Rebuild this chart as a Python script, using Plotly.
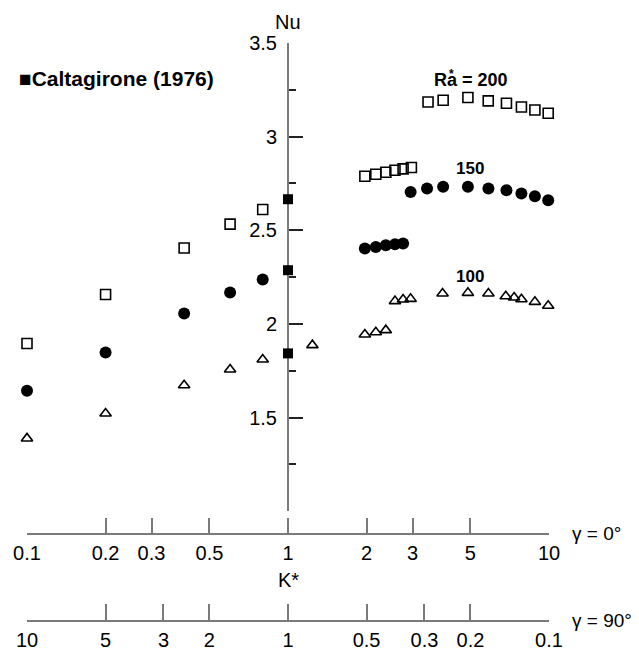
import plotly.graph_objects as go

# ---- data ----
K_200 = [0.1, 0.2, 0.4, 0.6, 0.8, 1.97, 2.17, 2.37, 2.57, 2.76, 2.97,
         3.44, 3.93, 4.89, 5.85, 6.87, 7.84, 8.83, 9.93]
Nu_200 = [1.896, 2.157, 2.406, 2.533, 2.611, 2.789, 2.799, 2.810, 2.821, 2.828, 2.835,
          3.185, 3.194, 3.209, 3.191, 3.178, 3.158, 3.142, 3.125]

K_150 = [0.1, 0.2, 0.4, 0.6, 0.8, 1.97, 2.17, 2.37, 2.57, 2.76,
         2.95, 3.41, 3.93, 4.89, 5.86, 6.87, 7.84, 8.83, 9.93]
Nu_150 = [1.643, 1.848, 2.056, 2.168, 2.237, 2.403, 2.411, 2.420, 2.426, 2.430,
          2.705, 2.723, 2.732, 2.732, 2.723, 2.714, 2.696, 2.682, 2.661]

K_100 = [0.1, 0.2, 0.4, 0.6, 0.8, 1.24, 1.97, 2.17, 2.37, 2.57, 2.76, 2.95,
         3.91, 4.89, 5.86, 6.83, 7.35, 7.84, 8.83, 9.93]
Nu_100 = [1.389, 1.522, 1.673, 1.757, 1.810, 1.887, 1.944, 1.956, 1.967, 2.122, 2.131, 2.134,
          2.163, 2.166, 2.163, 2.148, 2.141, 2.132, 2.118, 2.097]

K_calt = [1, 1, 1]
Nu_calt = [1.843, 2.287, 2.666]

K_ticks_0 = [0.1, 0.2, 0.3, 0.5, 1, 2, 3, 5, 10]
K_ticks_90 = [10, 5, 3, 2, 1, 0.5, 0.3, 0.2, 0.1]
Nu_ticks = [1.5, 2, 2.5, 3, 3.5]

FONT = "Liberation Sans, Arial, sans-serif"
AX = "#7a7a7a"

fig = go.Figure()
fig.add_trace(go.Scatter(x=K_200, y=Nu_200, mode="markers", name="Ra*=200",
                         marker=dict(symbol="square-open", size=10, color="black",
                                     line=dict(width=1.6, color="black")),
                         cliponaxis=False))
fig.add_trace(go.Scatter(x=K_150, y=Nu_150, mode="markers", name="Ra*=150",
                         marker=dict(symbol="circle", size=12, color="black"),
                         cliponaxis=False))
fig.add_trace(go.Scatter(x=K_100, y=Nu_100, mode="markers", name="Ra*=100",
                         marker=dict(symbol="triangle-up-open", size=10, color="black",
                                     line=dict(width=1.6, color="black")),
                         cliponaxis=False))
fig.add_trace(go.Scatter(x=K_calt, y=Nu_calt, mode="markers", name="Caltagirone (1976)",
                         marker=dict(symbol="square", size=10, color="black"),
                         cliponaxis=False))
# second (reversed) K* scale for gamma = 90 deg
fig.add_trace(go.Scatter(x=K_ticks_90, y=[None] * len(K_ticks_90), xaxis="x2",
                         mode="markers", showlegend=False, hoverinfo="skip"))

# page body has an 8px default margin -> figure is 8px smaller, margins shifted
fig.update_layout(
    width=631, height=643,
    margin=dict(l=18.7, r=89.7, t=34.7, b=30.3, autoexpand=False),
    paper_bgcolor="white", plot_bgcolor="white",
    showlegend=False,
    font=dict(family=FONT, size=20, color="black"),
    xaxis=dict(type="log", range=[-1, 1], anchor="free", position=0.15,
               tickvals=K_ticks_0, ticktext=[str(v) for v in K_ticks_0],
               ticks="inside", ticklen=16, tickwidth=1.5, tickcolor=AX,
               showline=True, linecolor=AX, linewidth=1.5, layer="below traces",
               showgrid=False, zeroline=False, ticklabelstandoff=1),
    xaxis2=dict(type="log", range=[1, -1], anchor="free", position=0,
                overlaying="x",
                tickvals=K_ticks_90, ticktext=[str(v) for v in K_ticks_90],
                ticks="inside", ticklen=16, tickwidth=1.5, tickcolor=AX,
                showline=True, linecolor=AX, linewidth=1.5,
                showgrid=False, zeroline=False, ticklabelstandoff=1),
    yaxis=dict(range=[1.0, 3.5], domain=[0.1898, 1], anchor="free", position=0.5,
               side="left", tickvals=Nu_ticks, ticktext=[str(v) for v in Nu_ticks],
               ticks="inside", ticklen=14, tickwidth=1.5, tickcolor="#222",
               minor=dict(tickvals=[1.25, 1.75, 2.25, 2.75, 3.25], ticks="inside",
                          ticklen=7, tickwidth=1.5, tickcolor="#222"),
               showline=True, linecolor=AX, linewidth=2, layer="below traces",
               showgrid=False, zeroline=False, ticklabelstandoff=6),
)

ann = [
    dict(text="Nu", xref="paper", yref="paper", x=0.5, y=1.059,
         xanchor="center", yanchor="top"),
    dict(text="K*", xref="paper", yref="paper", x=0.5, y=0.0704,
         xanchor="center", yanchor="middle"),
    dict(text="γ = 0°", xref="paper", yref="paper", x=1.041, y=0.1517,
         xanchor="left", yanchor="middle", font=dict(size=19)),
    dict(text="γ = 90°", xref="paper", yref="paper", x=1.041, y=0.0012,
         xanchor="left", yanchor="middle", font=dict(size=19)),
    dict(text="<b>■Caltagirone (1976)</b>", xref="paper", yref="y", x=-0.0186, y=3.312,
         xanchor="left", yanchor="middle", font=dict(size=21)),
    dict(text="<b>Ra = 200</b>", xref="x", yref="y", x=0.702, y=3.301,
         xanchor="center", yanchor="middle", font=dict(size=18)),
    dict(text="<b>*</b>", xref="x", yref="y", x=0.627, y=3.336,
         xanchor="center", yanchor="middle", font=dict(size=12)),
    dict(text="<b>150</b>", xref="x", yref="y", x=0.698, y=2.830,
         xanchor="center", yanchor="middle", font=dict(size=17)),
    dict(text="<b>100</b>", xref="x", yref="y", x=0.698, y=2.251,
         xanchor="center", yanchor="middle", font=dict(size=17)),
]
for a in ann:
    a["showarrow"] = False
fig.update_layout(annotations=ann)

fig.write_html("out.html")
